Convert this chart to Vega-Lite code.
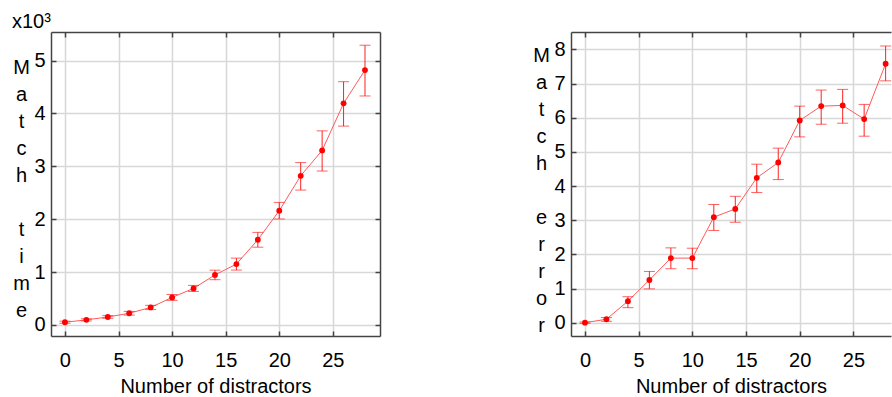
{
  "$schema": "https://vega.github.io/schema/vega-lite/v6.json",
  "padding": {"left": 12, "top": 12, "right": 0, "bottom": 0},
  "background": "white",
  "config": {
    "font": "Liberation Sans",
    "view": {"stroke": null},
    "axis": {
      "domainColor": "#444444", "domainWidth": 1.5,
      "tickColor": "#444444", "tickSize": -5, "tickWidth": 1.5,
      "gridColor": "#d8d8d8", "gridWidth": 1.5,
      "labelFont": "Liberation Sans", "titleFont": "Liberation Sans",
      "labelFontSize": 20, "titleFontSize": 20,
      "labelColor": "#000000", "titleColor": "#000000", "titleFontWeight": "normal"
    },
    "axisBottom": {"labelPadding": 19, "titlePadding": 6},
    "axisLeft": {"labelPadding": 11},
    "title": {"font": "Liberation Sans", "fontWeight": "normal", "color": "#000000"}
  },
  "datasets": {
    "time": [
      {"n": 0, "mean": 0.05, "lo": 0.03, "hi": 0.07},
      {"n": 2, "mean": 0.095, "lo": 0.075, "hi": 0.115},
      {"n": 4, "mean": 0.15, "lo": 0.125, "hi": 0.175},
      {"n": 6, "mean": 0.22, "lo": 0.185, "hi": 0.255},
      {"n": 8, "mean": 0.33, "lo": 0.29, "hi": 0.37},
      {"n": 10, "mean": 0.52, "lo": 0.465, "hi": 0.575},
      {"n": 12, "mean": 0.69, "lo": 0.633, "hi": 0.747},
      {"n": 14, "mean": 0.945, "lo": 0.855, "hi": 1.035},
      {"n": 16, "mean": 1.15, "lo": 1.037, "hi": 1.263},
      {"n": 18, "mean": 1.61, "lo": 1.47, "hi": 1.75},
      {"n": 20, "mean": 2.16, "lo": 2.003, "hi": 2.317},
      {"n": 22, "mean": 2.82, "lo": 2.55, "hi": 3.07},
      {"n": 24, "mean": 3.3, "lo": 2.91, "hi": 3.67},
      {"n": 26, "mean": 4.19, "lo": 3.76, "hi": 4.6},
      {"n": 28, "mean": 4.82, "lo": 4.33, "hi": 5.29}
    ],
    "error": [
      {"n": 0, "mean": 0.0, "lo": -0.02, "hi": 0.02},
      {"n": 2, "mean": 0.1, "lo": 0.04, "hi": 0.15},
      {"n": 4, "mean": 0.63, "lo": 0.44, "hi": 0.76},
      {"n": 6, "mean": 1.25, "lo": 0.99, "hi": 1.5},
      {"n": 8, "mean": 1.89, "lo": 1.58, "hi": 2.19},
      {"n": 10, "mean": 1.89, "lo": 1.58, "hi": 2.18},
      {"n": 12, "mean": 3.09, "lo": 2.7, "hi": 3.46},
      {"n": 14, "mean": 3.33, "lo": 2.94, "hi": 3.7},
      {"n": 16, "mean": 4.24, "lo": 3.81, "hi": 4.64},
      {"n": 18, "mean": 4.69, "lo": 4.19, "hi": 5.11},
      {"n": 20, "mean": 5.92, "lo": 5.44, "hi": 6.34},
      {"n": 22, "mean": 6.34, "lo": 5.81, "hi": 6.81},
      {"n": 24, "mean": 6.36, "lo": 5.84, "hi": 6.83},
      {"n": 26, "mean": 5.96, "lo": 5.46, "hi": 6.39},
      {"n": 28, "mean": 7.58, "lo": 7.08, "hi": 8.1}
    ]
  },
  "hconcat": [
    {
      "width": 329,
      "height": 304,
      "title": {"text": "x10³", "anchor": "start", "frame": "group", "dx": -39, "fontSize": 20, "baseline": "alphabetic", "offset": -17},
      "data": {"name": "time"},
      "resolve": {"axis": {"x": "independent", "y": "independent"}},
      "layer": [
        {
          "mark": {"type": "line", "color": "#ff5a5a", "strokeWidth": 1},
          "encoding": {
            "x": {"field": "n", "type": "quantitative", "scale": {"domain": [-1.3, 29.4], "nice": false, "zero": false},
                  "axis": {"orient": "bottom", "values": [0, 5, 10, 15, 20, 25], "grid": true, "title": "Number of distractors"}},
            "y": {"field": "mean", "type": "quantitative", "scale": {"domain": [-0.21, 5.54], "nice": false, "zero": false},
                  "axis": {"orient": "left", "values": [0, 1, 2, 3, 4, 5], "grid": true,
                           "title": ["M", "a", "t", "c", "h", "\u200b", "t", "i", "m", "e"],
                           "titleAngle": 0, "titleX": -30, "titleY": 35, "titleAlign": "center", "titleBaseline": "middle", "titleLineHeight": 27}}
          }
        },
        {
          "mark": {"type": "errorbar", "color": "#ff2020", "thickness": 1, "ticks": {"size": 11}},
          "encoding": {
            "x": {"field": "n", "type": "quantitative", "axis": null},
            "y": {"field": "lo", "type": "quantitative", "axis": null},
            "y2": {"field": "hi"}
          }
        },
        {
          "mark": {"type": "point", "filled": true, "shape": "circle", "size": 34, "color": "#ff0000", "opacity": 1},
          "encoding": {
            "x": {"field": "n", "type": "quantitative",
                  "axis": {"orient": "top", "values": [0, 5, 10, 15, 20, 25], "grid": false, "labels": false, "title": null}},
            "y": {"field": "mean", "type": "quantitative",
                  "axis": {"orient": "right", "values": [0, 1, 2, 3, 4, 5], "grid": false, "labels": false, "title": null}}
          }
        }
      ]
    },
    {
      "width": 320,
      "height": 304,
      "data": {"name": "error"},
      "resolve": {"axis": {"x": "independent", "y": "independent"}},
      "layer": [
        {
          "mark": {"type": "line", "color": "#ff5a5a", "strokeWidth": 1},
          "encoding": {
            "x": {"field": "n", "type": "quantitative", "scale": {"domain": [-1.3, 28.5], "nice": false, "zero": false},
                  "axis": {"orient": "bottom", "values": [0, 5, 10, 15, 20, 25], "grid": true, "title": "Number of distractors"}},
            "y": {"field": "mean", "type": "quantitative", "scale": {"domain": [-0.39, 8.51], "nice": false, "zero": false},
                  "axis": {"orient": "left", "values": [0, 1, 2, 3, 4, 5, 6, 7, 8], "grid": true,
                           "title": ["M", "a", "t", "c", "h", "\u200b", "e", "r", "r", "o", "r"],
                           "titleAngle": 0, "titleX": -30, "titleY": 23, "titleAlign": "center", "titleBaseline": "middle", "titleLineHeight": 27}}
          }
        },
        {
          "mark": {"type": "errorbar", "color": "#ff2020", "thickness": 1, "ticks": {"size": 11}},
          "encoding": {
            "x": {"field": "n", "type": "quantitative", "axis": null},
            "y": {"field": "lo", "type": "quantitative", "axis": null},
            "y2": {"field": "hi"}
          }
        },
        {
          "mark": {"type": "point", "filled": true, "shape": "circle", "size": 34, "color": "#ff0000", "opacity": 1},
          "encoding": {
            "x": {"field": "n", "type": "quantitative",
                  "axis": {"orient": "top", "values": [0, 5, 10, 15, 20, 25], "grid": false, "labels": false, "title": null}},
            "y": {"field": "mean", "type": "quantitative", "axis": null}
          }
        }
      ]
    }
  ],
  "spacing": 151
}
